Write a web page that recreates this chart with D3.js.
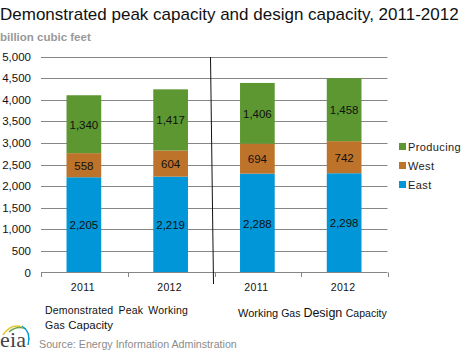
<!DOCTYPE html>
<html>
<head>
<meta charset="utf-8">
<script src="https://cdn.jsdelivr.net/npm/d3@7"></script>
<style>
body { margin: 0; background: #fff; }
text { font-family: "Liberation Sans", Arial, sans-serif; }
</style>
</head>
<body>
<div id="chart-area"></div>
<script>
var bars = ["a2011", "a2012", "b2011", "b2012"];
var yearLabels = ["2011", "2012", "2011", "2012"];
var east = [2205, 2219, 2288, 2298];
var west = [558, 604, 694, 742];
var producing = [1340, 1417, 1406, 1458];
var yTicks = [0, 500, 1000, 1500, 2000, 2500, 3000, 3500, 4000, 4500, 5000];
var legendNames = ["Producing", "West", "East"];

var colors = { East: "#0096d7", West: "#bd732a", Producing: "#5d9732" };
var fmt = d3.format(",");

var svg = d3.select("#chart-area").append("svg")
    .attr("width", 468)
    .attr("height", 361)
    .style("display", "block");

var x = d3.scaleBand().domain(bars).range([40.5, 387.5]).paddingInner(0.6).paddingOuter(0.3);
var y = d3.scaleLinear().domain([0, 5000]).range([272.5, 56.5]);

// title
svg.append("text").attr("x", 0).attr("y", 20).attr("font-size", 17).attr("fill", "#111")
    .text("Demonstrated peak capacity and design capacity, 2011-2012");
svg.append("text").attr("x", 0).attr("y", 41).attr("font-size", 11.5).attr("font-weight", "bold").attr("fill", "#999")
    .text("billion cubic feet");

// gridlines and y axis
var yAxis = d3.axisLeft(y).tickValues(yTicks).tickSize(0).tickPadding(10).tickFormat(fmt);
var gy = svg.append("g").attr("transform", "translate(41,0)").call(yAxis);
gy.select(".domain").remove();
gy.selectAll("text").attr("font-size", 11.5).attr("fill", "#111").style("font-family", "'Liberation Sans', Arial, sans-serif");

svg.append("g").selectAll("line").data(yTicks.filter(d => d > 0)).enter().append("line")
    .attr("x1", 41).attr("x2", 387.5)
    .attr("y1", d => Math.round(y(d)) + 0.5).attr("y2", d => Math.round(y(d)) + 0.5)
    .attr("stroke", "#868686");

// stacked bars
var rows = bars.map((b, i) => ({ bar: b, East: east[i], West: west[i], Producing: producing[i] }));
var stack = d3.stack().keys(["East", "West", "Producing"])(rows);

var series = svg.append("g").selectAll("g").data(stack).enter().append("g")
    .attr("fill", d => colors[d.key]);

series.selectAll("rect").data(d => d).enter().append("rect")
    .attr("x", d => x(d.data.bar))
    .attr("width", x.bandwidth())
    .attr("y", d => y(d[1]))
    .attr("height", d => y(d[0]) - y(d[1]));

series.selectAll("text").data(d => d).enter().append("text")
    .attr("x", d => x(d.data.bar) + x.bandwidth() / 2)
    .attr("y", d => (y(d[0]) + y(d[1])) / 2 + 4.5)
    .attr("text-anchor", "middle")
    .attr("font-size", 11.5)
    .attr("fill", "#111")
    .text(d => fmt(d[1] - d[0]));

// x axis, ticks fall between the bars
var step = x.step();
var xTickPos = d3.range(0, 5).map(i => 41 + i * step);
svg.append("line").attr("x1", 41).attr("x2", 387.5).attr("y1", 272.5).attr("y2", 272.5).attr("stroke", "#868686");
svg.append("g").selectAll("line").data(xTickPos).enter().append("line")
    .attr("x1", d => Math.round(d) + 0.5).attr("x2", d => Math.round(d) + 0.5)
    .attr("y1", 272.5).attr("y2", 277)
    .attr("stroke", "#868686");

svg.append("g").selectAll("text").data(yearLabels).enter().append("text")
    .attr("x", (d, i) => x(bars[i]) + x.bandwidth() / 2 - 1)
    .attr("y", 291)
    .attr("text-anchor", "middle")
    .attr("font-size", 10.5)
    .attr("letter-spacing", 0.4)
    .attr("fill", "#111")
    .text(d => d);

// divider
svg.append("line").attr("x1", 210.5).attr("y1", 57).attr("x2", 213.5).attr("y2", 284)
    .attr("stroke", "#111").attr("stroke-width", 1);

// legend
var legend = svg.append("g").selectAll("g").data(legendNames).enter().append("g")
    .attr("transform", (d, i) => "translate(399," + (143 + i * 19) + ")");
legend.append("rect").attr("y", 0).attr("width", 7).attr("height", 7).attr("fill", d => colors[d]);
legend.append("text").attr("x", 9).attr("y", 8).attr("font-size", 11).attr("letter-spacing", 0.4).attr("fill", "#222").text(d => d);

// group captions
svg.append("text").attr("x", 45).attr("y", 314).attr("font-size", 10.5).attr("word-spacing", 2).attr("letter-spacing", 0.2).attr("fill", "#111")
    .text("Demonstrated Peak Working");
var cap2 = svg.append("text").attr("x", 45).attr("y", 329).attr("fill", "#111");
cap2.append("tspan").attr("font-size", 10.5).attr("letter-spacing", 0.25).text("Gas ");
cap2.append("tspan").attr("font-size", 11.5).text("Capacity");

var cap3 = svg.append("text").attr("x", 238).attr("y", 317).attr("fill", "#111");
cap3.append("tspan").attr("font-size", 11).text("Working ");
cap3.append("tspan").attr("font-size", 10.5).text("Gas ");
cap3.append("tspan").attr("font-size", 12.5).text("Design ");
cap3.append("tspan").attr("font-size", 10.5).text("Capacity");

// source + logo
svg.append("text").attr("x", 39).attr("y", 348).attr("font-size", 10.7).attr("fill", "#8c8c8c")
    .text("Source: Energy Information Adminstration");

var logo = svg.append("g");
logo.append("path").attr("d", "M3 335 Q11 323 22 327").attr("fill", "none").attr("stroke", "#e8c832").attr("stroke-width", 1.6);
logo.append("path").attr("d", "M9 332 Q17 325 26 329").attr("fill", "none").attr("stroke", "#6aa84f").attr("stroke-width", 1.6);
logo.append("path").attr("d", "M22 326 Q32 332 28 345 Q31 332 22 326Z").attr("fill", "#0096d7").attr("stroke", "#0096d7").attr("stroke-width", 1);
logo.append("text").attr("x", 0).attr("y", 347).attr("font-size", 22).attr("textLength", 26).style("font-family", "'Liberation Serif', serif").attr("fill", "#444").text("eia");
</script>
</body>
</html>
